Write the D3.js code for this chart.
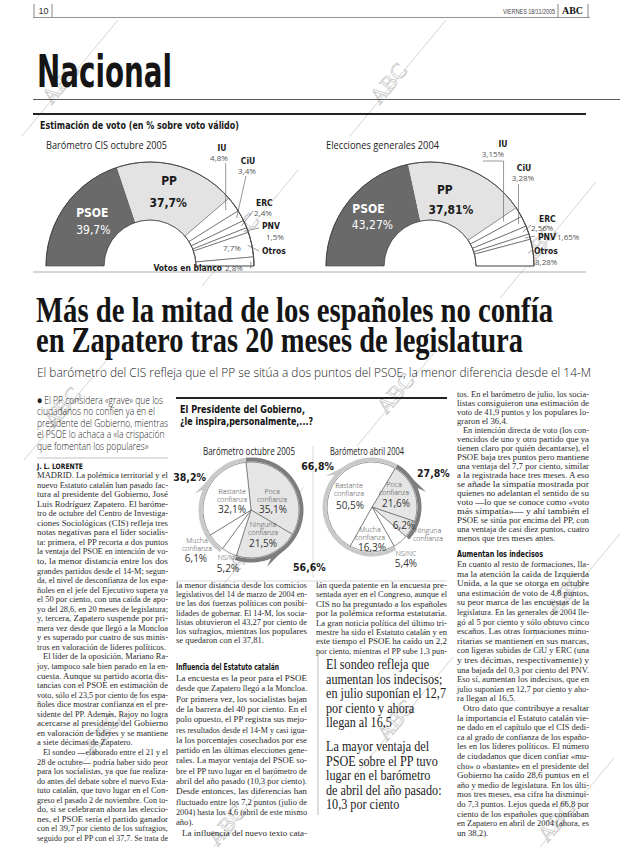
<!DOCTYPE html>
<html><head><meta charset="utf-8">
<script src="https://cdn.jsdelivr.net/npm/d3@7"></script>
<style>body{margin:0;background:#fff}svg{display:block}</style>
</head><body><svg id="c" width="620" height="847"></svg>
<script>
// ---------------- DATA ----------------
const cisParties = ["PSOE","PP","IU","CiU","ERC","PNV","Otros","Votos en blanco"];
const cisValues  = [39.7, 37.7, 4.8, 3.4, 2.4, 1.5, 7.7, 2.8];
const elecParties = ["PSOE","PP","IU","CiU","ERC","PNV","Otros"];
const elecValues  = [43.27, 37.81, 3.15, 3.28, 2.56, 1.65, 8.28];
const confCategories = ["Poca confianza","Ninguna confianza","NS/NC","Mucha confianza","Bastante confianza"];
const conf2005 = [35.1, 21.5, 5.2, 6.1, 32.1];
const conf2004 = [21.6, 6.2, 5.4, 16.3, 50.5];
const negTotals = [56.6, 27.8];   // poca + ninguna
const posTotals = [38.2, 66.8];   // bastante + mucha
const pieTitles = ["Barómetro octubre 2005","Barómetro abril 2004"];

const headline = ["Más de la mitad de los españoles no confía","en Zapatero tras 20 meses de legislatura"];
const subhead = "El barómetro del CIS refleja que el PP se sitúa a dos puntos del PSOE, la menor diferencia desde el 14-M";
const leadLines = ["● El PP considera «grave» que los","ciudadanos no confíen ya en el","presidente del Gobierno, mientras","el PSOE lo achaca a «la crispación","que fomentan los populares»"];

const colA = [
 {p:["MADRID. La polémica territorial y el","nuevo Estatuto catalán han pasado fac-","tura al presidente del Gobierno, José","Luis Rodríguez Zapatero. El baróme-","tro de octubre del Centro de Investiga-","ciones Sociológicas (CIS) refleja tres","notas negativas para el líder socialis-","ta: primera, el PP recorta a dos puntos","la ventaja del PSOE en intención de vo-","to, la menor distancia entre los dos","grandes partidos desde el 14-M; segun-","da, el nivel de desconfianza de los espa-","ñoles en el jefe del Ejecutivo supera ya","el 50 por ciento, con una caída de apo-","yo del 28,6, en 20 meses de legislatura;","y, tercera, Zapatero suspende por pri-","mera vez desde que llegó a la Moncloa","y es superado por cuatro de sus minis-","tros en valoración de líderes políticos."]},
 {indent:true,p:["El líder de la oposición, Mariano Ra-","joy, tampoco sale bien parado en la en-","cuesta. Aunque su partido acorta dis-","tancias con el PSOE en estimación de","voto, sólo el 23,5 por ciento de los espa-","ñoles dice mostrar confianza en el pre-","sidente del PP. Además, Rajoy no logra","acercarse al presidente del Gobierno","en valoración de líderes y se mantiene","a siete décimas de Zapatero."]},
 {indent:true,cont:true,p:["El sondeo —elaborado entre el 21 y el","28 de octubre— podría haber sido peor","para los socialistas, ya que fue realiza-","do antes del debate sobre el nuevo Esta-","tuto catalán, que tuvo lugar en el Con-","greso el pasado 2 de noviembre. Con to-","do, si se celebraran ahora las eleccio-","nes, el PSOE sería el partido ganador","con el 39,7 por ciento de los sufragios,","seguido por el PP con el 37,7. Se trata de"]}
];
const colB = [
 {lh:9.2,p:["la menor distancia desde los comicios","legislativos del 14 de marzo de 2004 en-","tre las dos fuerzas políticas con posibi-","lidades de gobernar. El 14-M, los socia-","listas obtuvieron el 43,27 por ciento de","los sufragios, mientras los populares","se quedaron con el 37,81."]},
 {at:670},
 {head:"Influencia del Estatuto catalán",w:103},
 {at:681},
 {lh:10.3,p:["La encuesta es la peor para el PSOE","desde que Zapatero llegó a la Moncloa.","Por primera vez, los socialistas bajan","de la barrera del 40 por ciento. En el","polo opuesto, el PP registra sus mejo-","res resultados desde el 14-M y casi igua-","la los porcentajes cosechados por ese","partido en las últimas elecciones gene-","rales. La mayor ventaja del PSOE so-","bre el PP tuvo lugar en el barómetro de","abril del año pasado (10,3 por ciento).","Desde entonces, las diferencias han","fluctuado entre los 7,2 puntos (julio de","2004) hasta los 4,6 (abril de este mismo","año)."]},
 {lh:10.3,indent:true,cont:true,p:["La influencia del nuevo texto cata-"]}
];
const colC = [
 {lh:9.4,cont:true,p:["lán queda patente en la encuesta pre-","sentada ayer en el Congreso, aunque el","CIS no ha preguntado a los españoles","por la polémica reforma estatutaria.","La gran noticia política del último tri-","mestre ha sido el Estatuto catalán y en","este tiempo el PSOE ha caído un 2,2","por ciento, mientras el PP sube 1,3 pun-"]}
];
const pullQuotes = [["El sondeo refleja que","aumentan los indecisos;","en julio suponían el 12,7","por ciento y ahora","llegan al 16,5"],["La mayor ventaja del","PSOE sobre el PP tuvo","lugar en el barómetro","de abril del año pasado:","10,3 por ciento"]];
const colD = [
 {lh:9.0,p:["tos. En el barómetro de julio, los socia-","listas consiguieron una estimación de","voto de 41,9 puntos y los populares lo-","graron el 36,4."]},
 {lh:9.0,indent:true,p:["En intención directa de voto (los con-","vencidos de uno y otro partido que ya","tienen claro por quién decantarse), el","PSOE baja tres puntos pero mantiene","una ventaja del 7,7 por ciento, similar","a la registrada hace tres meses. A eso","se añade la simpatía mostrada por","quienes no adelantan el sentido de su","voto —lo que se conoce como «voto","más simpatía»— y ahí también el","PSOE se sitúa por encima del PP, con","una ventaja de casi diez puntos, cuatro","menos que tres meses antes."]},
 {at:557},
 {head:"Aumentan los indecisos",w:86},
 {at:567},
 {lh:9.6,p:["En cuanto al resto de formaciones, lla-","ma la atención la caída de Izquierda","Unida, a la que se otorga en octubre","una estimación de voto  de 4,8 puntos,","su peor marca de las encuestas de la","legislatura. En las generales de 2004 lle-","gó al 5 por ciento y sólo obtuvo cinco","escaños. Las otras formaciones mino-","ritarias se mantienen en sus marcas,","con ligeras subidas de CiU y ERC (una","y tres décimas, respectivamente) y","una bajada del 0,3 por ciento del PNV.","Eso sí, aumentan los indecisos, que en","julio suponían en 12,7 por ciento y aho-","ra llegan al 16,5."]},
 {lh:9.6,indent:true,p:["Otro dato que contribuye a resaltar","la importancia el Estatuto catalán vie-","ne dado en el capítulo que el CIS dedi-","ca al grado de confianza de los españo-","les en los líderes políticos. El número","de ciudadanos que dicen confiar «mu-","cho» o «bastante» en el presidente del","Gobierno ha caído 28,6 puntos en el","año y medio de legislatura. En los últi-","mos tres meses, esa cifra ha disminui-","do 7,3 puntos. Lejos queda el 66,8 por","ciento de los españoles que confiaban","en Zapatero en abril de 2004 (ahora, es","un 38,2)."]}
];

// ---------------- SETUP ----------------
const SANS = "'Open Sans','Lato','DejaVu Sans',sans-serif";
const COND = "'DejaVu Sans Condensed','Liberation Sans Narrow','Liberation Sans',sans-serif";
const SERIF = "'Liberation Serif','DejaVu Serif',serif";
const svg = d3.select('#c');
svg.append('rect').attr('width',620).attr('height',847).attr('fill','#fff');
const fmt = v => String(v).replace('.',',') + '%';

function txt(g,s,x,y,o={}){
  const t=g.append('text').attr('x',x).attr('y',y).text(s)
    .attr('font-family',o.ff||SANS).attr('font-size',o.fs||10)
    .attr('font-weight',o.fw||400).attr('fill',o.fill||'#111')
    .attr('text-anchor',o.anchor||'start');
  if(o.tl) t.attr('textLength',o.tl).attr('lengthAdjust','spacingAndGlyphs');
  return t;
}
function hline(x1,x2,y,c,w){svg.append('line').attr('x1',x1).attr('x2',x2).attr('y1',y).attr('y2',y).attr('stroke',c).attr('stroke-width',w);}
function vline(x,y1,y2,c,w){svg.append('line').attr('x1',x).attr('x2',x).attr('y1',y1).attr('y2',y2).attr('stroke',c).attr('stroke-width',w);}
function fitRatio(t,target){return target/t.node().getComputedTextLength();}
function setTL(t,w){t.attr('textLength',w).attr('lengthAdjust','spacingAndGlyphs');}

// watermarks (behind)
const wmG = svg.append('g');
[[70,78],[398,78],[250,228],[548,240],[72,402],[405,388],[112,728],[256,545],[405,715],[575,588],[236,820],[566,816]].forEach(([x,y])=>{
  wmG.append('line').attr('x1',x-48).attr('y1',y+58).attr('x2',x+48).attr('y2',y-58).attr('stroke','#c2c2c2').attr('stroke-width',0.7);
  wmG.append('text').attr('transform',`translate(${x-4},${y+10}) rotate(-50)`).text('ABC')
    .attr('font-family',SERIF).attr('font-size',22).attr('fill','none').attr('stroke','#c8c8c8').attr('stroke-width',0.7).attr('text-anchor','middle');
});

// ---------------- HEADER ----------------
vline(34,4,17,'#555',0.7); vline(52,4,17,'#555',0.7);
txt(svg,'10',38.5,14,{ff:"'Liberation Sans',sans-serif",fs:9,fill:'#333'});
txt(svg,'VIERNES 18/11/2005',503,14,{ff:"'Liberation Sans',sans-serif",fs:6.6,fill:'#444',tl:52});
vline(558,4,17,'#555',0.7); vline(588,4,17,'#555',0.7);
txt(svg,'ABC',562,14,{ff:SERIF,fs:9.5,fw:700,fill:'#111',tl:21});
hline(33,590,17.5,'#666',0.7);
txt(svg,'Nacional',37,87,{ff:"'DejaVu Sans Condensed','DejaVu Sans',sans-serif",fs:44,fw:700,fill:'#151515',tl:135});
hline(33,620,99.5,'#444',0.9);

// ---------------- SEMI-DONUTS ----------------
hline(33,586,114,'#222',2);
txt(svg,'Estimación de voto (en % sobre voto válido)',40,129,{ff:COND,fs:10.5,fw:700,fill:'#1a1a1a',tl:199});
hline(33,586,272,'#8a8a8a',0.7);

const R_OUT=104, R_IN=46, CY=266;
function halfDonut(cx, title, titleW, parties, values, centralLay, smallLay){
  const g=svg.append('g');
  txt(g,title,cx-104,149,{ff:SANS,fs:10.5,fill:'#222',tl:titleW});
  const arcs=d3.pie().sort(null).startAngle(-Math.PI/2).endAngle(Math.PI/2)(values);
  const arc=d3.arc().innerRadius(R_IN).outerRadius(R_OUT);
  const fills=i=>i===0?'#6a6a6a':(i===1?'#e3e3e3':'#fff');
  g.selectAll('path.s').data(arcs).join('path').attr('class','s').attr('d',arc)
   .attr('transform',`translate(${cx},${CY})`).attr('fill',(d,i)=>fills(i))
   .attr('stroke',(d,i)=>i<2?'none':'#444').attr('stroke-width',0.6);
  const outline=d3.arc().innerRadius(R_OUT).outerRadius(R_OUT).startAngle(-Math.PI/2).endAngle(Math.PI/2);
  g.append('path').attr('d',outline()).attr('transform',`translate(${cx},${CY})`).attr('fill','none').attr('stroke','#444').attr('stroke-width',0.8);
  const inner=d3.arc().innerRadius(R_IN).outerRadius(R_IN).startAngle(-Math.PI/2).endAngle(Math.PI/2);
  g.append('path').attr('d',inner()).attr('transform',`translate(${cx},${CY})`).attr('fill','none').attr('stroke','#444').attr('stroke-width',0.6);
  g.append('line').attr('x1',cx-R_OUT).attr('x2',cx-R_IN).attr('y1',CY).attr('y2',CY).attr('stroke','#444').attr('stroke-width',0.6);
  g.append('line').attr('x1',cx+R_IN).attr('x2',cx+R_OUT).attr('y1',CY).attr('y2',CY).attr('stroke','#444').attr('stroke-width',0.6);
  centralLay.forEach((L,i)=>{
    const c=d3.arc().innerRadius(L.r).outerRadius(L.r).centroid(arcs[i]);
    const col=i===0?'#fff':'#1a1a1a';
    txt(g,parties[i],cx+c[0]+L.dx,CY+c[1]+L.dy1,{ff:COND,fs:12,fw:700,fill:col,anchor:'middle'});
    txt(g,fmt(values[i]),cx+c[0]+L.dx2,CY+c[1]+L.dy2,{ff:COND,fs:12,fw:i===0?400:700,fill:col,anchor:'middle'});
  });
  smallLay.forEach(L=>{
    const d=arcs[L.i]; const a=(d.startAngle+d.endAngle)/2;
    const ax=cx+L.r*Math.sin(a), ay=CY-L.r*Math.cos(a);
    const pts=[[ax,ay]].concat(L.path.map(p=>[p[0]==='A'?ax:p[0],p[1]]));
    g.append('path').attr('d',d3.line()(pts)).attr('fill','none').attr('stroke','#555').attr('stroke-width',0.6);
    txt(g,parties[L.i],L.n[0],L.n[1],{ff:COND,fs:8.5,fw:700,fill:'#1a1a1a',anchor:L.n[2]||'start'});
    txt(g,fmt(values[L.i]),L.v[0],L.v[1],{ff:SANS,fs:8,fill:'#555',anchor:L.v[2]||'start'});
  });
}
halfDonut(150,'Barómetro CIS octubre 2005',121,cisParties,cisValues,
 [{r:76,dx:4,dy1:-5,dx2:5,dy2:12},{r:72,dx:0,dy1:-12,dx2:-1,dy2:10}],
 [{i:2,r:94,path:[['A',163]],n:[222,151,'middle'],v:[219,161,'middle']},
  {i:3,r:99,path:[[246,176]],n:[248,164,'middle'],v:[247,174,'middle']},
  {i:4,r:100,path:[[253,211]],n:[256,206],v:[254,216]},
  {i:5,r:100,path:[[259,228]],n:[262,229],v:[266,240]},
  {i:6,r:100,path:[[259,251]],n:[262,254],v:[223,251]},
  {i:7,r:101,path:[['A',268],[250,268]],n:[222,271,'end'],v:[225,271]}]);
halfDonut(430,'Elecciones generales 2004',113,elecParties,elecValues,
 [{r:74,dx:-4,dy1:-6,dx2:0,dy2:10},{r:72,dx:-12,dy1:-5,dx2:-6,dy2:15}],
 [{i:2,r:86,path:[['A',161],[483,161]],n:[503,147,'middle'],v:[493,157,'middle']},
  {i:3,r:98,path:[['A',184]],n:[524,171,'middle'],v:[523,181,'middle']},
  {i:4,r:99,path:[[531,225]],n:[539,222],v:[531,231]},
  {i:5,r:99,path:[[535,236]],n:[538,240],v:[557,240]},
  {i:6,r:99,path:[[532,250]],n:[534,254],v:[535,265]}]);

// ---------------- HEADLINE ----------------
txt(svg,headline[0],36,322,{ff:SERIF,fs:35,fw:700,fill:'#151515',tl:517});
txt(svg,headline[1],36,352,{ff:SERIF,fs:35,fw:700,fill:'#151515',tl:487});
txt(svg,subhead,37,377,{ff:SANS,fs:13.5,fw:300,fill:'#222',tl:554});

// ---------------- LEAD ----------------
{
  const ts=leadLines.map((s,i)=>txt(svg,s,37,404+i*11.4,{ff:SANS,fs:10.2,fw:300,fill:'#222'}));
  const r=fitRatio(ts[2],131);
  ts.forEach(t=>setTL(t,t.node().getComputedTextLength()*r));
}
hline(37,168,458,'#999',0.6);
txt(svg,'J. L. LORENTE',37,469,{ff:COND,fs:7.5,fw:700,fill:'#111',tl:46});

// ---------------- BODY COLUMNS ----------------
function column(items,x,y0,w,lh0){
  let y=y0; const just=[],last=[];
  items.forEach(it=>{
    if(it.at!==undefined){y=it.at;return;}
    if(it.head){txt(svg,it.head,x,y,{ff:COND,fs:9.5,fw:700,fill:'#111',tl:it.w});return;}
    const lh=it.lh||lh0;
    it.p.forEach((s,i)=>{
      const ind=(i===0&&it.indent)?6:0;
      const t=txt(svg,s,x+ind,y,{ff:SERIF,fs:8.9,fill:'#2b2b2b'});
      const isLast=(i===it.p.length-1)&&!it.cont;
      (isLast?last:just).push({t,w:w-ind});
      y+=lh;
    });
  });
  const rs=just.map(o=>o.w/o.t.node().getComputedTextLength());
  const med=d3.median(rs)||1;
  just.forEach(o=>setTL(o.t,o.w));
  last.forEach(o=>{const n=o.t.node().getComputedTextLength();setTL(o.t,Math.min(o.w,n*med));});
}
column(colA,37,478,131,9.55);
column(colB,176,588,131,9.5);
column(colC,316,588,131,9.4);
column(colD,457,397,132,9.3);

// pull quotes
vline(318,652,815,'#aaa',0.8);
{
  const all=[];
  pullQuotes.forEach((q,k)=>q.forEach((s,i)=>all.push(txt(svg,s,326,669+k*82+i*14.5,{ff:SERIF,fs:14,fill:'#222'}))));
  const r=fitRatio(all[2],120);
  all.forEach(t=>setTL(t,t.node().getComputedTextLength()*r));
}

// ---------------- PIE BOX ----------------
hline(176,447,398,'#222',2);
txt(svg,'El Presidente del Gobierno,',180,413,{ff:COND,fs:11,fw:700,fill:'#111',tl:125});
txt(svg,'¿le inspira,personalmente,...?',180,425,{ff:COND,fs:11,fw:700,fill:'#111',tl:133});
vline(313,446,578,'#cfcfcf',0.8);
hline(176,447,581,'#bbb',0.6);

function confPie(cx,cy,r,values,startDeg,title,titleX,titleW,negLab,posLab,lab){
  const g=svg.append('g').attr('transform',`translate(${cx},${cy})`);
  txt(svg,title,titleX,455,{ff:SANS,fs:10,fill:'#222',tl:titleW});
  const s=startDeg*Math.PI/180;
  const arcs=d3.pie().sort(null).startAngle(s).endAngle(s+2*Math.PI)(values);
  g.selectAll('path.s').data(arcs).join('path').attr('class','s')
   .attr('d',d3.arc().innerRadius(0).outerRadius(r))
   .attr('fill',(d,i)=>i<2?'#e5e5e5':'#fff').attr('stroke','#555').attr('stroke-width',0.6);
  const ring=d3.arc().innerRadius(r+0.5).outerRadius(r+4.5);
  g.append('path').attr('d',ring({startAngle:arcs[0].startAngle,endAngle:arcs[1].endAngle})).attr('fill','#7d7d7d');
  g.append('path').attr('d',ring({startAngle:arcs[3].startAngle,endAngle:arcs[4].endAngle})).attr('fill','#c9c9c9');
  [[negLab,'#7d7d7d'],[posLab,'#c9c9c9']].forEach(([L,c])=>{
    const a=L.ta*Math.PI/180, da=0.12;
    const p=(ang,rr)=>[rr*Math.sin(ang),-rr*Math.cos(ang)];
    const tip=p(a+L.tw,r+11);
    g.append('path').attr('d',d3.line()([p(a-da,r+4),p(a+da,r+4),tip])+'Z').attr('fill',c);
  });
  txt(svg,fmt(negLab.v),negLab.x,negLab.y,{ff:COND,fs:10.5,fw:700,fill:'#1a1a1a',anchor:negLab.an});
  txt(svg,fmt(posLab.v),posLab.x,posLab.y,{ff:COND,fs:10.5,fw:700,fill:'#1a1a1a',anchor:posLab.an});
  lab.forEach(L=>{
    const name=confCategories[L.i];
    if(L.words){
      const w=name.split(' ');
      txt(svg,w[0],L.x,L.y,{ff:SANS,fs:7,fw:300,fill:'#444',anchor:'middle'});
      if(w[1]) txt(svg,w[1],L.x,L.y+7.5,{ff:SANS,fs:7,fw:300,fill:'#444',anchor:'middle'});
    }
    txt(svg,fmt(values[L.i]),L.vx,L.vy,{ff:SANS,fs:10,fw:400,fill:'#333',anchor:'middle'});
  });
}
confPie(251,510,48,conf2005,-6,pieTitles[0],203,92,
  {v:negTotals[0],x:293,y:571,an:'start',ta:150,tw:0.25},
  {v:posTotals[0],x:206,y:481,an:'end',ta:300,tw:-0.25},
  [{i:4,words:true,x:232,y:494,vx:232,vy:513},
   {i:0,words:true,x:272,y:494,vx:273,vy:513},
   {i:1,words:true,x:263,y:527,vx:263,vy:547},
   {i:3,words:true,x:197,y:543,vx:196,vy:562},
   {i:2,words:true,x:228,y:560,vx:228,vy:572}]);
confPie(372,507,45,conf2004,31,pieTitles[1],330,74,
  {v:negTotals[1],x:417,y:477,an:'start',ta:60,tw:0.25},
  {v:posTotals[1],x:334,y:470,an:'end',ta:318,tw:-0.25},
  [{i:4,words:true,x:349,y:488,vx:350,vy:509},
   {i:0,words:true,x:394,y:487,vx:396,vy:507},
   {i:1,words:true,x:428,y:533,vx:404,vy:529},
   {i:3,words:true,x:370,y:532,vx:372,vy:551},
   {i:2,words:true,x:406,y:556,vx:406,vy:567}]);
</script></body></html>
